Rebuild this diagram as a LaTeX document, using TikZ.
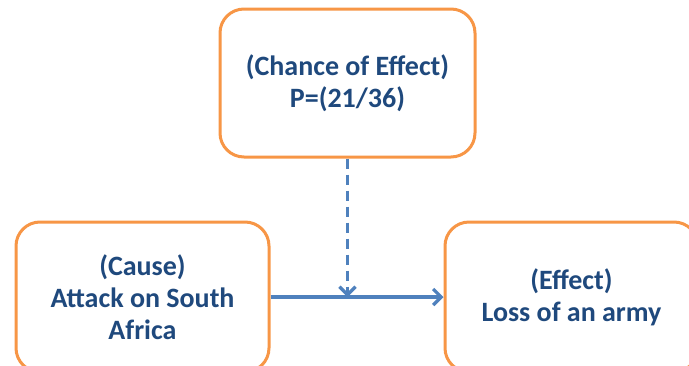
\documentclass[tikz,border=0pt]{standalone}
\usepackage{fontspec}
\setmainfont{Carlito}
\usetikzlibrary{arrows.meta}
\definecolor{boxorange}{HTML}{F79646}
\definecolor{textnavy}{HTML}{1F497D}
\definecolor{linkblue}{HTML}{4F81BD}
\tikzset{
  factbox/.style={draw=boxorange, line width=3pt, rounded corners=24pt,
    fill=white, minimum width=253pt, minimum height=148pt, align=center,
    text=textnavy, font=\fontsize{28}{32}\selectfont\bfseries, inner sep=0pt},
  link/.style={draw=linkblue, line width=3.2pt,
    -{Straight Barb[length=8pt,width=16pt]}},
}
\begin{document}
\begin{tikzpicture}[x=1pt,y=-1pt]
  \useasboundingbox (0,0) rectangle (689,365);
  \clip (0,0) rectangle (689,365);
  \node[factbox, minimum width=255pt] (chance) at (347.5,83) {(Chance of Effect)\\P=(21/36)};
  \node[factbox, minimum height=150pt] (cause) at (142.5,297) {(Cause)\\Attack on South\\Africa};
  \node[factbox, minimum height=150pt] (effect) at (571.5,297) {(Effect)\\Loss of an army};
  \draw[link] (cause.east) -- (effect.west);
  \coordinate (meet) at (chance.south |- cause.east);
  \draw[link, dash pattern=on 10pt off 6pt] (chance.south) -- (meet);
\end{tikzpicture}
\end{document}
